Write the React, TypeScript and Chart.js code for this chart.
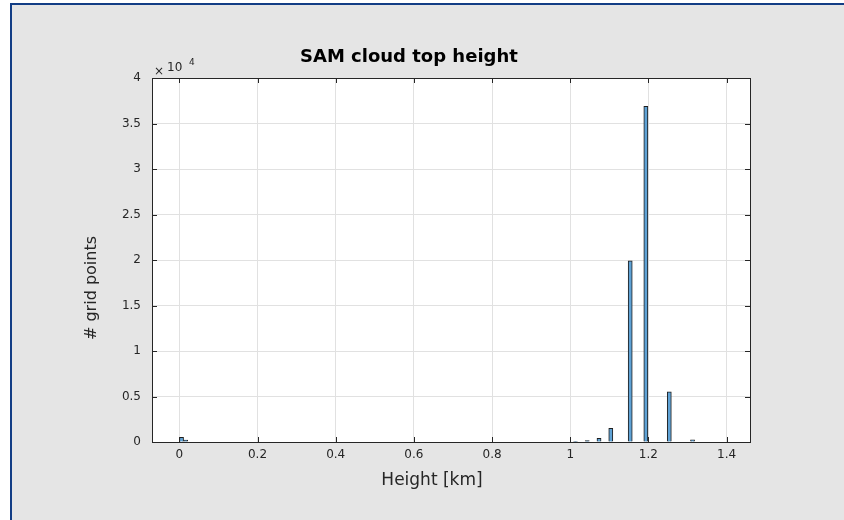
import React, { useEffect, useRef } from 'react';
import { Chart, registerables } from 'chart.js';

Chart.register(...registerables);

// Histogram bins (bin centre in km) and their counts
const binCenters = [0.0055, 0.016, 1.0135, 1.0435, 1.0737, 1.1038, 1.1535, 1.1935, 1.2535, 1.313];
const binCounts = [500, 200, 80, 150, 400, 1500, 19900, 36900, 5500, 250];

const xTickValues = [0, 0.2, 0.4, 0.6, 0.8, 1, 1.2, 1.4];
const yTickValues = [0, 5000, 10000, 15000, 20000, 25000, 30000, 35000, 40000];

const titleText = 'SAM cloud top height';
const xLabelText = 'Height [km]';
const yLabelText = '# grid points';
const exponentText = '4';

const FONT = '"DejaVu Sans", "Liberation Sans", Arial, sans-serif';
const AXIS_COLOR = '#262626';

const decorPlugin = {
  id: 'matlabDecor',
  beforeDraw(chart: any) {
    const { ctx, chartArea } = chart;
    ctx.save();
    ctx.fillStyle = '#ffffff';
    ctx.fillRect(chartArea.left, chartArea.top, chartArea.right - chartArea.left, chartArea.bottom - chartArea.top);
    ctx.restore();
  },
  afterDraw(chart: any) {
    const { ctx, chartArea } = chart;
    const { left, right, top, bottom } = chartArea;
    const xs = chart.scales.x;
    const ys = chart.scales.y;
    ctx.save();
    ctx.strokeStyle = AXIS_COLOR;
    ctx.lineWidth = 1;
    ctx.strokeRect(Math.round(left) + 0.5, Math.round(top) + 0.5, Math.round(right - left), Math.round(bottom - top));
    const tl = 5;
    ctx.beginPath();
    xTickValues.forEach((v) => {
      const px = Math.round(xs.getPixelForValue(v)) + 0.5;
      ctx.moveTo(px, bottom);
      ctx.lineTo(px, bottom - tl);
      ctx.moveTo(px, top);
      ctx.lineTo(px, top + tl);
    });
    yTickValues.forEach((v) => {
      const py = Math.round(ys.getPixelForValue(v)) + 0.5;
      ctx.moveTo(left, py);
      ctx.lineTo(left + tl, py);
      ctx.moveTo(right, py);
      ctx.lineTo(right - tl, py);
    });
    ctx.stroke();

    // exponent label
    ctx.fillStyle = AXIS_COLOR;
    ctx.textBaseline = 'alphabetic';
    ctx.textAlign = 'left';
    ctx.font = `12px ${FONT}`;
    ctx.fillText('\u00d7', left + 2, top - 3);
    ctx.fillText('10', left + 15, top - 7);
    ctx.font = `9px ${FONT}`;
    ctx.fillText(exponentText, left + 37, top - 13);

    // title
    ctx.fillStyle = '#000000';
    ctx.font = `bold 18px ${FONT}`;
    ctx.textAlign = 'left';
    ctx.fillText(titleText, 300, 62);

    // x label
    ctx.fillStyle = AXIS_COLOR;
    ctx.font = `17px ${FONT}`;
    ctx.textAlign = 'center';
    ctx.textBaseline = 'middle';
    ctx.fillText(xLabelText, 432, 481);

    // y label
    ctx.font = `16px ${FONT}`;
    ctx.translate(92, 288);
    ctx.rotate(-Math.PI / 2);
    ctx.fillText(yLabelText, 0, 0);
    ctx.restore();
  },
};

export default function App() {
  const canvasRef = useRef<HTMLCanvasElement | null>(null);

  useEffect(() => {
    const canvas = canvasRef.current;
    if (!canvas) return;
    const chart = new Chart(canvas, {
      type: 'bar',
      data: {
        datasets: [
          {
            data: binCenters.map((x, i) => ({ x, y: binCounts[i] })),
            backgroundColor: '#5fa2d5',
            borderColor: '#1e1e1e',
            borderWidth: 1,
            borderSkipped: 'start',
            categoryPercentage: 1,
            barPercentage: 1,
          } as any,
        ],
      },
      options: {
        animation: false,
        responsive: false,
        devicePixelRatio: 1,
        layout: { padding: { left: 0, top: 78, right: 94, bottom: 0 } },
        plugins: { legend: { display: false }, tooltip: { enabled: false }, title: { display: false } },
        scales: {
          x: {
            type: 'linear',
            min: -0.07,
            max: 1.46,
            offset: false,
            afterFit: (s: any) => {
              s.height = 78;
            },
            afterBuildTicks: (s: any) => {
              s.ticks = xTickValues.map((v) => ({ value: v }));
            },
            ticks: {
              includeBounds: false,
              autoSkip: false,
              maxRotation: 0,
              padding: 6,
              color: AXIS_COLOR,
              font: { family: FONT, size: 12 },
              callback: (v: any) => String(Math.round(Number(v) * 10) / 10),
            },
            grid: { color: '#e1e1e1', drawTicks: false, lineWidth: 1, offset: false },
            border: { display: false },
          },
          y: {
            type: 'linear',
            min: 0,
            max: 40000,
            afterFit: (s: any) => {
              s.width = 152;
            },
            afterBuildTicks: (s: any) => {
              s.ticks = yTickValues.map((v) => ({ value: v }));
            },
            ticks: {
              autoSkip: false,
              padding: 11,
              color: AXIS_COLOR,
              font: { family: FONT, size: 12 },
              callback: (v: any) => String(Number(v) / 10000),
            },
            grid: { color: '#e1e1e1', drawTicks: false, lineWidth: 1 },
            border: { display: false },
          },
        },
      },
      plugins: [decorPlugin],
    });
    return () => chart.destroy();
  }, []);

  return (
    <div style={{ position: 'absolute', left: 0, top: 0, width: 844, height: 520, background: '#ffffff', overflow: 'hidden' }}>
      <div
        style={{
          position: 'absolute',
          left: 10,
          top: 3,
          right: 0,
          bottom: 0,
          background: '#e5e5e5',
          borderLeft: '2px solid #123d85',
          borderTop: '2px solid #123d85',
        }}
      />
      <canvas
        ref={canvasRef}
        width={844}
        height={520}
        style={{ position: 'absolute', left: 0, top: 0, width: 844, height: 520 }}
      />
    </div>
  );
}
